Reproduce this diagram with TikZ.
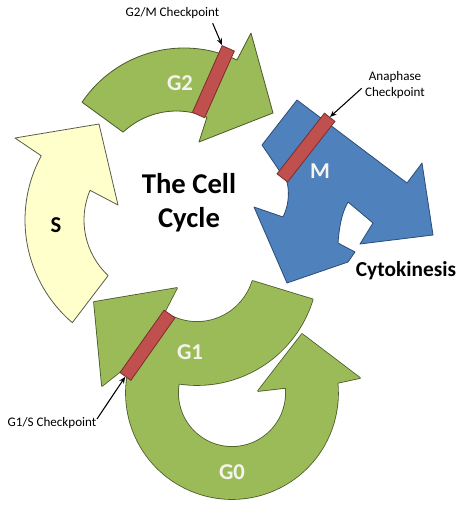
\documentclass[tikz,border=0pt]{standalone}
\usepackage{fontspec}
\setmainfont{Carlito}
\usetikzlibrary{calc,arrows.meta}
\definecolor{greenfill}{HTML}{9BBB59}
\definecolor{greenline}{HTML}{4A5A2A}
\definecolor{bluefill}{HTML}{4F81BD}
\definecolor{blueline}{HTML}{2C4D75}
\definecolor{yellowfill}{HTML}{FFFFCC}
\definecolor{yellowline}{HTML}{5A5A4A}
\definecolor{barfill}{HTML}{C0504D}
\definecolor{barline}{HTML}{7A2E2C}
\definecolor{lbltext}{HTML}{F4F4EC}
\tikzset{
  yellowshape/.style={fill=yellowfill, draw=yellowline, line width=0.6pt, line join=round},
  greenshape/.style={fill=greenfill, draw=greenline, line width=0.6pt, line join=round},
  greenoutline/.style={draw=greenline, line width=1.2pt, line join=round},
  greenfillonly/.style={fill=greenfill},
  blueshape/.style={fill=bluefill, draw=blueline, line width=0.6pt, line join=round},
  checkbar/.style={draw=barline, fill=barfill, line width=0.6pt, minimum height=10pt, inner sep=0pt},
  ptr/.style={-{Stealth[length=5pt,width=4pt]}, line width=0.8pt, black},
  smalllbl/.style={inner sep=0pt, font=\fontsize{9.8}{12.7}\selectfont, align=center},
  phaselbl/.style={inner sep=0pt, font=\fontsize{17}{20}\selectfont\bfseries, text=lbltext},
  darklbl/.style={inner sep=0pt, text=black}
}
\begin{document}
\begin{tikzpicture}[x=0.75pt, y=-0.75pt]
\useasboundingbox[fill=white] (0,0) rectangle (474,508);
% centres
\coordinate (cS) at (160,220);
\coordinate (cGto) at (184,171);
\coordinate (cGti) at (176.5,189);
\coordinate (cGz) at (232,393);
\coordinate (cGo) at (197,264);
% S phase
\path[yellowshape] ($(cS)+(130.5:135)$) arc[start angle=130.5, end angle=208.4, radius=135]
  -- (15,138) -- (99,124) -- (118,205)
  -- ($(cS)+(203:76)$) arc[start angle=203, end angle=133, radius=76] -- cycle;
% G2 phase
\path[greenshape] ($(cGto)+(214:123)$) arc[start angle=214, end angle=295.5, radius=123]
  -- (251,33) -- (273,113) -- (199,142)
  -- ($(cGti)+(293:78)$) arc[start angle=293, end angle=226.8, radius=78] -- cycle;
% M phase
\path[blueshape] (297,100) -- (407,183) -- (422,163) -- (433,235) -- (360,244) -- (373,223)
  -- (348,202) .. controls (341,214) and (339,230) .. (338,243)
  -- (355,252) -- (348,262) -- (287,283) -- (254,207) -- (283,217)
  .. controls (288,207) and (290,194) .. (287,182) -- (262,145) -- cycle;
% G0 and G1 (merged outline)
\path[greenoutline] ($(cGz)+(200:106)$) arc[start angle=200, end angle=-5.5, radius=106]
  -- (360,378) -- (302,334) -- (258,391)
  -- ($(cGz)+(-5.5:54)$) arc[start angle=-5.5, end angle=200, radius=54] -- cycle;
\path[greenoutline] ($(cGo)+(17:121)$) arc[start angle=17, end angle=124, radius=121]
  -- (102,386) -- (94,302) -- (177,288)
  -- ($(cGo)+(124:58)$) arc[start angle=124, end angle=17, radius=58] -- cycle;
\path[greenfillonly] ($(cGz)+(200:106)$) arc[start angle=200, end angle=-5.5, radius=106]
  -- (360,378) -- (302,334) -- (258,391)
  -- ($(cGz)+(-5.5:54)$) arc[start angle=-5.5, end angle=200, radius=54] -- cycle;
\path[greenfillonly] ($(cGo)+(17:121)$) arc[start angle=17, end angle=124, radius=121]
  -- (102,386) -- (94,302) -- (177,288)
  -- ($(cGo)+(124:58)$) arc[start angle=124, end angle=17, radius=58] -- cycle;
% checkpoint bars
\node[checkbar, minimum width=54.75pt, rotate=66] (g2bar) at (213.4,81.7) {};
\node[checkbar, minimum width=57.75pt, rotate=52] (mbar) at (306,147.6) {};
\node[checkbar, minimum width=57.3pt, rotate=54.8] (g1bar) at (147.5,345.2) {};
% checkpoint labels and pointers
\node[smalllbl] (g2mlbl) at (172.5,13) {G2/M Checkpoint};
\node[smalllbl] (analbl) at (395,85) {Anaphase\\Checkpoint};
\node[smalllbl] (g1slbl) at (52,423) {G1/S Checkpoint};
\coordinate (g2mstart) at (212.7,23.3);
\coordinate (anastart) at (361.7,88.3);
\coordinate (g1sstart) at (97,419);
\draw[ptr] (g2mstart) -- (g2bar.north east);
\draw[ptr] (anastart) -- (mbar.east);
\draw[ptr] (g1sstart) -- (g1bar.west);
% phase labels
\node[phaselbl] (g2lbl) at (180,83.5) {G2};
\node[phaselbl] (mlbl) at (320,171) {M};
\node[phaselbl] (g1lbl) at (190,352) {G1};
\node[phaselbl] (g0lbl) at (232,472) {G0};
\node[darklbl, font=\fontsize{17}{20}\selectfont\bfseries] (slbl) at (56,225) {S};
\node[darklbl, font=\fontsize{21.5}{25.5}\selectfont\bfseries, align=center] (title) at (189,203) {The Cell\\Cycle};
\node[darklbl, font=\fontsize{16}{19}\selectfont\bfseries, anchor=base] (cytolbl) at (406,276) {Cytokinesis};
\end{tikzpicture}
\end{document}
